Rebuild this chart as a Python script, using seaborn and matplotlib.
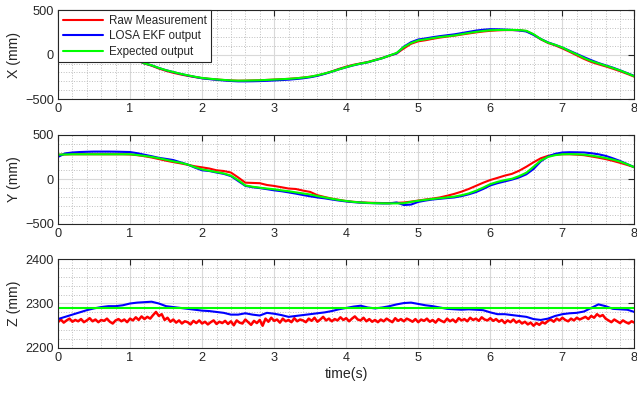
import numpy as np
import pandas as pd
import matplotlib
matplotlib.use("Agg")
import matplotlib.pyplot as plt
import seaborn as sns
from matplotlib.ticker import MultipleLocator

x_raw = [60, 58, 55, 50, 42, 33, 22, 10, -5, -22,
         -42, -64, -100, -124, -156, -182, -204, -222, -238, -252,
         -264, -272, -279, -285, -290, -293, -292, -290, -288, -284,
         -280, -276, -272, -266, -258, -248, -234, -214, -188, -160,
         -135, -114, -98, -82, -60, -38, -12, 14, 70, 122,
         150, 162, 178, 192, 203, 213, 226, 238, 250, 260,
         268, 273, 276, 276, 274, 265, 226, 172, 132, 104,
         70, 32, -8, -48, -82, -108, -132, -158, -186, -216, -248]
x_ekf = [60, 58, 55, 50, 42, 33, 22, 10, -5, -22,
         -40, -62, -98, -120, -150, -175, -196, -216, -234, -250,
         -266, -275, -283, -290, -296, -300, -300, -299, -297, -294,
         -290, -286, -281, -274, -266, -254, -238, -216, -192, -165,
         -142, -120, -102, -86, -63, -40, -10, 14, 90, 140,
         170, 182, 196, 208, 218, 228, 242, 256, 270, 280,
         286, 285, 282, 278, 272, 260, 222, 176, 138, 110,
         80, 44, 8, -28, -62, -94, -120, -146, -176, -208, -240]
x_exp = [60, 58, 55, 50, 42, 33, 22, 10, -5, -22,
         -40, -62, -98, -120, -150, -175, -195, -215, -232, -248,
         -262, -270, -278, -284, -290, -293, -292, -290, -288, -284,
         -280, -276, -272, -266, -258, -248, -232, -212, -190, -165,
         -140, -118, -100, -85, -62, -40, -10, 20, 85, 130,
         160, 172, 186, 198, 207, 216, 230, 244, 256, 266,
         274, 277, 278, 278, 276, 268, 230, 175, 135, 110,
         80, 40, 2, -38, -72, -98, -124, -150, -178, -210, -244]

y_raw = [275, 278, 280, 280, 280, 280, 280, 280, 280, 280,
         278, 270, 258, 244, 226, 208, 192, 178, 162, 145,
         133, 120, 100, 92, 75, 20, -39, -42, -45, -65,
         -76, -90, -105, -110, -128, -143, -180, -200, -218, -232,
         -246, -254, -260, -264, -266, -268, -268, -266, -262, -252,
         -240, -228, -218, -205, -186, -165, -140, -110, -75, -40,
         -9, 15, 40, 60, 95, 140, 190, 235, 262, 275,
         280, 280, 276, 270, 256, 242, 226, 206, 184, 160, 134]
y_ekf = [250, 290, 300, 305, 308, 310, 310, 310, 309, 307,
         305, 292, 275, 258, 240, 228, 215, 190, 165, 130,
         100, 92, 75, 60, 35, -20, -75, -90, -100, -112,
         -125, -135, -148, -162, -178, -192, -205, -215, -228, -240,
         -250, -258, -264, -268, -270, -272, -272, -262, -290, -285,
         -255, -240, -228, -220, -212, -205, -190, -170, -145, -110,
         -70, -45, -25, -5, 20, 55, 115, 200, 255, 285,
         300, 303, 302, 300, 292, 280, 262, 235, 205, 170, 134]
y_exp = [275, 278, 280, 280, 280, 280, 280, 280, 280, 280,
         280, 272, 262, 250, 235, 218, 200, 185, 165, 135,
         110, 95, 80, 65, 40, -10, -70, -85, -95, -105,
         -113, -125, -135, -148, -160, -172, -190, -205, -220, -234,
         -245, -255, -262, -266, -270, -271, -272, -272, -270, -255,
         -242, -232, -222, -214, -205, -196, -180, -160, -130, -95,
         -55, -30, -10, 5, 35, 73, 140, 210, 250, 270,
         280, 282, 280, 276, 265, 253, 238, 220, 198, 168, 134]

z_ekf = [2265, 2270, 2275, 2280, 2285, 2289, 2292, 2294, 2294, 2296,
         2300, 2302, 2303, 2304, 2300, 2294, 2292, 2290, 2288, 2286,
         2284, 2283, 2281, 2279, 2275, 2275, 2278, 2275, 2273, 2279,
         2277, 2274, 2270, 2272, 2274, 2276, 2278, 2280, 2283, 2287,
         2290, 2293, 2295, 2291, 2289, 2291, 2294, 2298, 2301, 2302,
         2299, 2296, 2294, 2291, 2288, 2287, 2286, 2287, 2286, 2285,
         2280, 2276, 2276, 2274, 2272, 2270, 2265, 2263, 2266, 2272,
         2276, 2278, 2279, 2282, 2290, 2298, 2294, 2288, 2287, 2286, 2281]

# raw Z is noisy, sampled every 0.04 s
z_raw = [2258, 2264, 2257, 2262, 2266, 2259, 2263, 2260,
         2265, 2258, 2262, 2267, 2260, 2264, 2258, 2263,
         2261, 2266, 2259, 2255, 2262, 2265, 2260, 2264,
         2258, 2266, 2262, 2269, 2263, 2271, 2265, 2270,
         2266, 2274, 2281, 2272, 2276, 2263, 2268, 2259,
         2264, 2257, 2262, 2255, 2260, 2258, 2253, 2261,
         2256, 2262, 2255, 2259, 2253, 2258, 2262, 2254,
         2259, 2256, 2261, 2254, 2260, 2251, 2262, 2257,
         2255, 2264, 2258, 2252, 2261, 2256, 2263, 2250,
         2266, 2259, 2268, 2261, 2264, 2257, 2266, 2260,
         2263, 2258, 2267, 2260, 2264, 2262, 2258, 2266,
         2261, 2268, 2259, 2264, 2270, 2262, 2266, 2260,
         2265, 2262, 2269, 2263, 2267, 2260, 2266, 2271,
         2264, 2262, 2268, 2260, 2265, 2259, 2263, 2258,
         2264, 2260, 2266, 2262, 2258, 2267, 2261, 2265,
         2260, 2266, 2263, 2259, 2265, 2258, 2264, 2261,
         2266, 2259, 2263, 2257, 2265, 2261, 2258, 2266,
         2260, 2264, 2258, 2267, 2262, 2265, 2260, 2268,
         2263, 2266, 2261, 2269, 2264, 2262, 2267, 2261,
         2265, 2259, 2263, 2256, 2262, 2258, 2264, 2257,
         2261, 2255, 2259, 2253, 2257, 2250, 2256, 2252,
         2258, 2255, 2261, 2264, 2259, 2266, 2262, 2268,
         2263, 2260, 2266, 2262, 2268, 2264, 2267, 2270,
         2265, 2272, 2268, 2276, 2271, 2274, 2266, 2262,
         2258, 2264, 2260, 2256, 2262, 2258, 2255, 2260,
         2257]
z_exp_t = [0, 8]
z_exp = [2290, 2290]

t_coarse = np.linspace(0, 8, len(x_exp))
t_fine = np.linspace(0, 8, len(z_raw))

names = ['Raw Measurement', 'LOSA EKF output', 'Expected output']
colors = ['#ff0000', '#0000ff', '#00ff00']

sns.set_style("white")
plt.rcParams['font.family'] = ['Liberation Sans', 'DejaVu Sans']

fig = plt.figure(figsize=(6.37, 3.95), dpi=100)
left, width = 0.091, 0.905
ax1 = fig.add_axes([left, 0.749, width, 0.2253])
ax2 = fig.add_axes([left, 0.4337, width, 0.2253])
ax3 = fig.add_axes([left, 0.119, width, 0.2253])

panels = [
    (ax1, [(t_coarse, x_raw), (t_coarse, x_ekf), (t_coarse, x_exp)], 'X (mm)', (-500, 500), 500, 100),
    (ax2, [(t_coarse, y_raw), (t_coarse, y_ekf), (t_coarse, y_exp)], 'Y (mm)', (-500, 500), 500, 100),
    (ax3, [(t_fine, z_raw), (t_coarse, z_ekf), (z_exp_t, z_exp)], 'Z (mm)', (2200, 2400), 100, 20),
]

for ax, series, ylab, ylim, major, minor in panels:
    for (tt, vals), name, c in zip(series, names, colors):
        lw = 1.8 if (ax is ax3 and c == '#ff0000') else 1.5
        sns.lineplot(x=tt, y=vals, ax=ax, color=c, linewidth=lw, label=name)
    ax.set_xlim(0, 8)
    ax.set_ylim(*ylim)
    ax.xaxis.set_major_locator(MultipleLocator(1))
    ax.xaxis.set_minor_locator(MultipleLocator(0.2))
    ax.yaxis.set_major_locator(MultipleLocator(major))
    ax.yaxis.set_minor_locator(MultipleLocator(minor))
    ax.grid(which='major', color='#d9d9d9', linestyle='-', linewidth=0.8)
    ax.grid(which='minor', color='#bfbfbf', linestyle=':', linewidth=0.7)
    ax.set_axisbelow(True)
    ax.tick_params(which='major', direction='in', length=4, width=0.8,
                   top=True, right=True, labelsize=9.2, colors='#262626', pad=3)
    ax.tick_params(which='minor', length=0)
    for sp in ax.spines.values():
        sp.set_color('#262626')
        sp.set_linewidth(0.8)
    ax.set_ylabel(ylab, fontsize=10.2, color='#262626', labelpad=3)
    ax.set_xlabel('')
    if ax is not ax1:
        ax.get_legend().remove()

ax3.set_xlabel('time(s)', fontsize=10.2, color='#262626', labelpad=2)

leg = ax1.legend(loc='upper left', bbox_to_anchor=(0, 1), borderaxespad=0,
                 fontsize=8.4, frameon=True, fancybox=False, framealpha=1,
                 edgecolor='#262626', handlelength=3.5, labelspacing=0.3,
                 handletextpad=0.45, borderpad=0.4)
leg.get_frame().set_linewidth(0.8)

fig.savefig('out.png', dpi=100)
